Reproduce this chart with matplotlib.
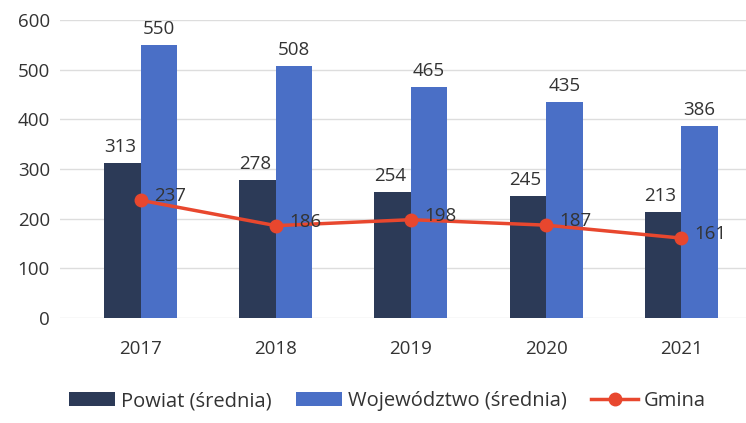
import matplotlib
matplotlib.use("Agg")
import matplotlib.pyplot as plt
import numpy as np

plt.rcParams["font.family"] = ["Open Sans", "DejaVu Sans"]

# Data
YEARS = ["2017", "2018", "2019", "2020", "2021"]
POWIAT = [313, 278, 254, 245, 213]
WOJEWODZTWO = [550, 508, 465, 435, 386]
GMINA = [237, 186, 198, 187, 161]

C_POWIAT = "#2c3a57"
C_WOJ = "#4a6fc6"
C_GMINA = "#e8472e"
TXT = "#333333"

fig = plt.figure(figsize=(7.46, 4.23), dpi=100)
ax = fig.add_axes([0.08, 0.248, 0.92, 0.705])

x = np.arange(len(YEARS))
w = 0.27
b1 = ax.bar(x - w / 2, POWIAT, width=w, color=C_POWIAT, label="Powiat (średnia)", zorder=2)
b2 = ax.bar(x + w / 2, WOJEWODZTWO, width=w, color=C_WOJ, label="Województwo (średnia)", zorder=2)
l1, = ax.plot(x, GMINA, color=C_GMINA, lw=2.5, marker="o", ms=9, label="Gmina", zorder=3)

# value labels
for xi, v in zip(x, POWIAT):
    ax.text(xi - w / 2 - 0.02, v + 14, str(v), ha="center", va="bottom",
            fontsize=13.5, color=TXT, zorder=4)
for xi, v in zip(x, WOJEWODZTWO):
    ax.text(xi + w / 2, v + 14, str(v), ha="center", va="bottom",
            fontsize=13.5, color=TXT, zorder=4)
for xi, v in zip(x, GMINA):
    ax.text(xi + 0.1, v + 8, str(v), ha="left", va="center",
            fontsize=13.5, color=TXT, zorder=4)

ax.set_ylim(0, 600)
ax.set_xlim(-0.6, 4.48)
ax.set_yticks(range(0, 601, 100))
ax.set_xticks(x)
ax.set_xticklabels(YEARS)
ax.tick_params(axis="both", length=0, labelsize=13.5, colors=TXT)
ax.tick_params(axis="y", pad=7)
ax.tick_params(axis="x", pad=16)
ax.grid(axis="y", color="#dddddd", lw=1, zorder=0)
for s in ax.spines.values():
    s.set_visible(False)

fig.legend(handles=[b1, b2, l1], loc="lower left", bbox_to_anchor=(0.068, -0.015),
           ncol=3, frameon=False, fontsize=14.5, handlelength=2.3, handleheight=0.7,
           columnspacing=1.2, handletextpad=0.3, labelcolor=TXT)

fig.savefig("out.png", dpi=100)
